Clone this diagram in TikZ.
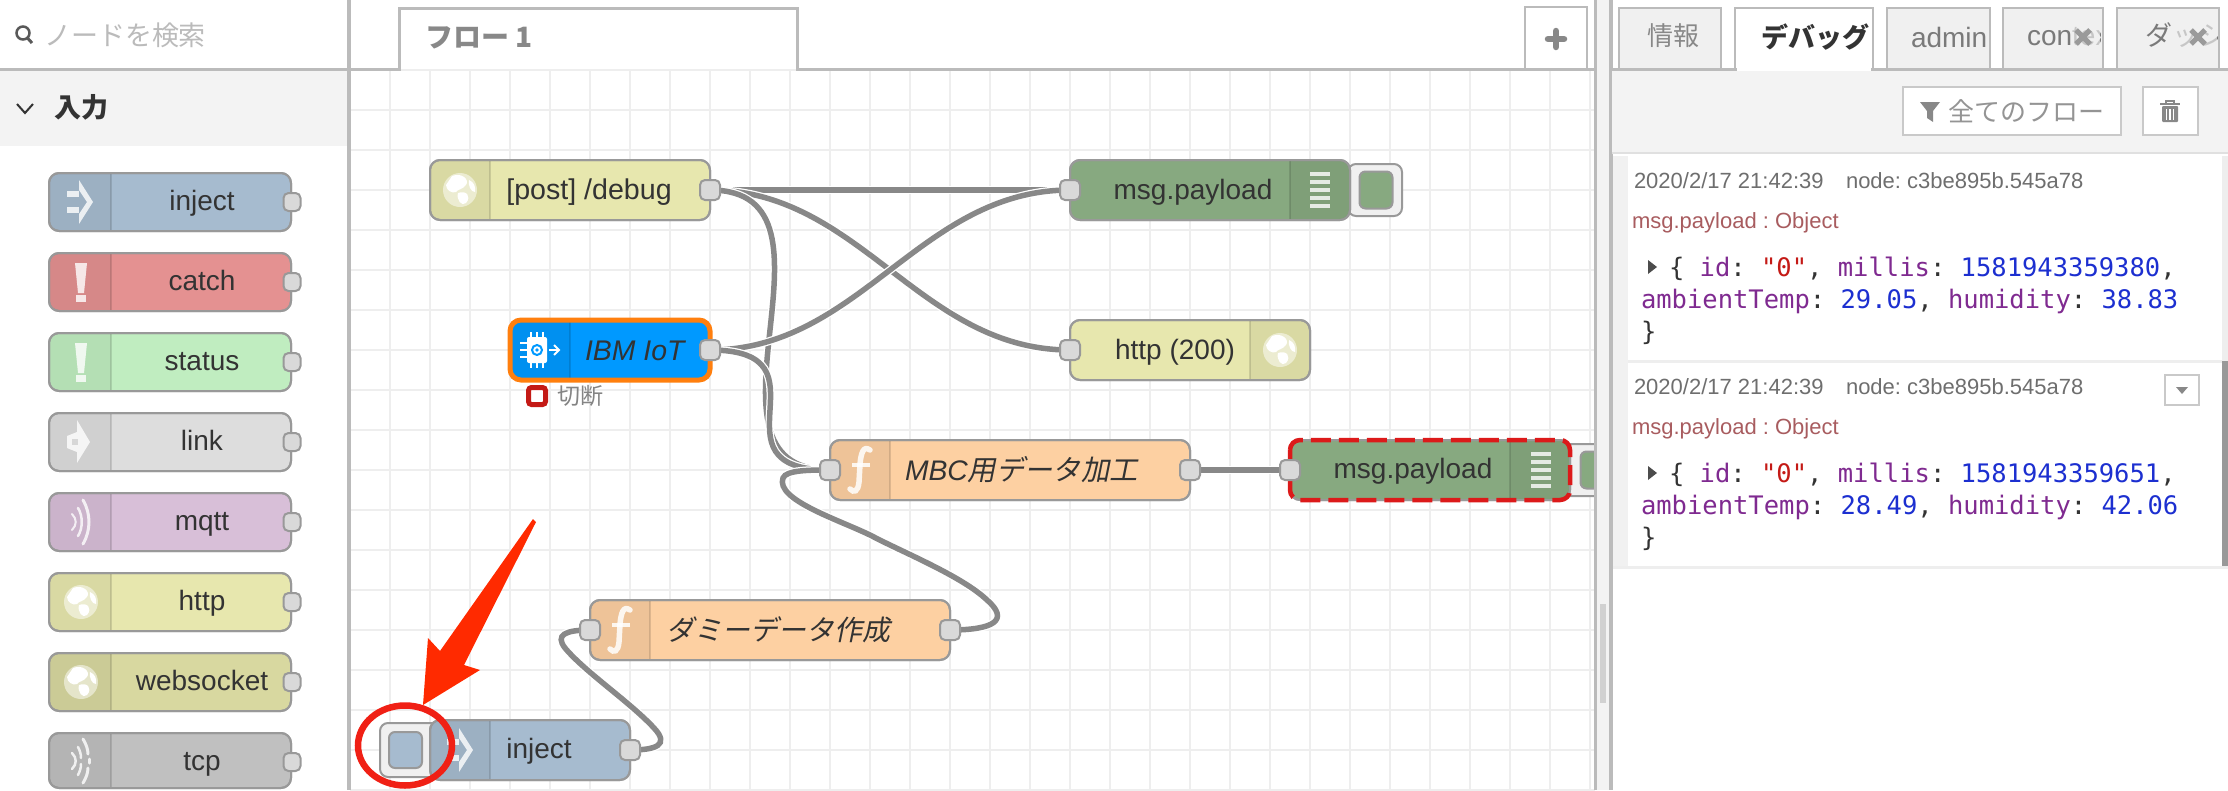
\documentclass[tikz,border=0pt]{standalone}
\usepackage{fontspec}
\setmainfont{Liberation Sans}
\newfontfamily\cjk{Noto Sans CJK JP}
\newfontfamily\cjkit[FakeSlant=0.2]{Noto Sans CJK JP}
\newfontfamily\mono{DejaVu Sans Mono}
\newcommand{\fsz}[1]{\fontsize{#1}{#1}\selectfont}
\definecolor{cinject}{HTML}{A6BBCF}
\definecolor{ccatch}{HTML}{E49191}
\definecolor{cstatus}{HTML}{C0EDC0}
\definecolor{clink}{HTML}{DDDDDD}
\definecolor{cmqtt}{HTML}{D8BFD8}
\definecolor{chttp}{HTML}{E7E7AE}
\definecolor{cws}{HTML}{D8D8A0}
\definecolor{ctcp}{HTML}{C0C0C0}
\definecolor{cfunc}{HTML}{FDD0A2}
\definecolor{cdebug}{HTML}{87A980}
\definecolor{cibm}{HTML}{0099FF}
\definecolor{ctxt}{HTML}{333333}
\definecolor{cgrid}{HTML}{EEEEEE}
\definecolor{cwire}{HTML}{888888}
\definecolor{cborder}{HTML}{999999}
\definecolor{cport}{HTML}{D9D9D9}
\definecolor{cpanel}{HTML}{F3F3F3}
\definecolor{cline}{HTML}{BBBBBB}
\definecolor{ctab}{HTML}{F0F0F0}
\definecolor{cred}{HTML}{FF2A00}
\definecolor{cring}{HTML}{F02015}
\definecolor{ckey}{HTML}{7F2A90}
\definecolor{cstr}{HTML}{C41A16}
\definecolor{cnum}{HTML}{1C2FD0}
\definecolor{cmeta}{HTML}{6E6E6E}
\definecolor{cprop}{HTML}{A85C5F}
\definecolor{cibmring}{HTML}{FF7F0E}
\definecolor{cdash}{HTML}{DC1A1A}
\pgfdeclarelayer{wirelayer}
\pgfsetlayers{wirelayer,main}
\tikzset{
  x=1pt,y=-1pt,
  nodebox/.style={rectangle,rounded corners=10pt,draw=cborder,line width=2pt,inner sep=0pt,outer sep=0pt},
  flatbox/.style={rectangle,inner sep=0pt,outer sep=0pt},
  port/.style={rectangle,rounded corners=5pt,draw=cborder,fill=cport,line width=2pt,minimum width=20pt,minimum height=20pt,inner sep=0pt},
  palport/.style={port,minimum width=17pt,minimum height=18pt},
  lbl/.style={inner sep=0pt,outer sep=0pt,text=ctxt,font=\fsz{28}},
  lblb/.style={lbl,anchor=base},
  wire/.style={draw=cwire,line width=5.5pt,preaction={draw=white,line width=8pt}},
  ico/.style={fill=white,fill opacity=.8,draw=none},
  icol/.style={draw=white,draw opacity=.8,line cap=round},
  pics/injecticon/.style={code={
    \fill[ico] (-13,-11) rectangle (-1,-5); \fill[ico] (-13,5) rectangle (-1,11);
    \fill[ico] (-1,-22) -- (13,0) -- (-1,22) -- (-1,12) -- (7,0) -- (-1,-12) -- cycle;}},
  pics/bangicon/.style={code={
    \fill[ico] (-6,-19) -- (6,-19) -- (3,11) -- (-3,11) -- cycle;
    \fill[ico] (-5,13) rectangle (5,20);}},
  pics/linkicon/.style={code={
    \fill[ico] (-2,-22) -- (11,0) -- (-2,21) -- (-2,10) -- (-12,6) -- (-12,-6) -- (-2,-10) -- cycle;
    \fill[black,opacity=.12] (-7,-3) rectangle (-1,3);}},
  pics/mqtticon/.style={code={
    \draw[icol,line width=2pt] (-8,-8) .. controls (-3,-3) and (-3,3) .. (-8,8);
    \draw[icol,line width=2.5pt] (-2,-14) .. controls (3,-6) and (3,6) .. (-2,14);
    \draw[icol,line width=3pt] (3,-22) .. controls (11,-8) and (11,8) .. (3,22);}},
  pics/tcpicon/.style={code={
    \draw[icol,line width=2.5pt] (-8,-8) .. controls (-3,-3) and (-3,3) .. (-8,8);
    \draw[icol,line width=2.5pt] (-2,-14) .. controls (0,-10) and (1,-7) .. (1,-3);
    \draw[icol,line width=2.5pt] (1,3) .. controls (1,7) and (0,10) .. (-2,14);
    \draw[icol,line width=3pt] (3,-22) .. controls (6,-17) and (8,-12) .. (8,-7);
    \draw[icol,line width=3pt] (9,-2) -- (9,2);
    \draw[icol,line width=3pt] (8,7) .. controls (8,12) and (6,17) .. (3,22);}},
  pics/globeicon/.style={code={
    \fill[white,fill opacity=.5] (0,0) circle (17);
    \fill[white] (-8,-14) .. controls (2,-18) and (10,-10) .. (6,-5) .. controls (2,0) and (-2,-1) .. (-4,2) .. controls (-8,4) and (-14,0) .. (-14,-5) -- cycle;
    \fill[white] (-2,3) .. controls (6,0) and (12,6) .. (6,13) .. controls (2,17) and (-4,10) .. (-2,3) -- cycle;
    \fill[white] (9,-10) .. controls (14,-8) and (16,-3) .. (15,2) .. controls (11,2) and (8,-4) .. (9,-10) -- cycle;}},
  pics/ficon/.style={code={
    \draw[draw=white,draw opacity=.85,line width=5.5pt,line cap=round] (10,-20) .. controls (3,-25) and (1,-16) .. (0,-6) -- (-1,12) .. controls (-2,22) and (-6,23) .. (-10,19);
    \draw[draw=white,draw opacity=.85,line width=4pt] (-8,-5) -- (10,-5);}},
  pics/barsicon/.style={code={
    \foreach \b in {-16,-8,0,8,16}{\fill[ico] (-10,\b-1.8) rectangle (10,\b+1.8);}}},
  pics/chipicon/.style={code={
    \foreach \b in {-6,0,6}{\draw[white,line width=2pt] (\b,-18) -- (\b,18);}
    \foreach \b in {-7,0,7}{\draw[white,line width=2pt] (-17,\b) -- (10,\b);}
    \fill[white,rounded corners=2pt] (-10,-13) rectangle (10,13);
    \draw[cibm,line width=2pt] (0,0) circle (5);
    \fill[cibm] (0,0) circle (1.8);
    \draw[white,line width=2pt] (12,0) -- (22,0);
    \draw[white,line width=2pt] (17,-5) -- (22,0) -- (17,5);}},
}
\newcommand{\nrbox}[9]{%
  \node[nodebox,fill=#6,minimum width={(#4-#2)*1pt},minimum height={(#5-#3)*1pt}] (#1) at ({(#2+#4)/2},{(#3+#5)/2}) {};
  \begin{scope}
    \clip[rounded corners=10pt] (#2,#3) rectangle (#4,#5);
    \fill[black,opacity=.06] (#7,#3) rectangle (#8,#5);
    \draw[black,opacity=.12,line width=2pt] (#9,#3) -- (#9,#5);
  \end{scope}
  \draw[draw=cborder,line width=2pt,rounded corners=10pt] (#2,#3) rectangle (#4,#5);
}
\newcommand{\flatnode}[6]{%
  \node[flatbox,#6,minimum width={(#4-#2)*1pt},minimum height={(#5-#3)*1pt}] (#1) at ({(#2+#4)/2},{(#3+#5)/2}) {};
}
\newcommand{\jk}[1]{\textcolor{ckey}{#1}}
\newcommand{\js}[1]{\textcolor{cstr}{#1}}
\newcommand{\jn}[1]{\textcolor{cnum}{#1}}
\frenchspacing
\begin{document}
\begin{tikzpicture}
\useasboundingbox (0,0) rectangle (2228,790);
% canvas grid
\begin{pgfonlayer}{wirelayer}
  \foreach \gx in {350,390,...,1590}{\draw[cgrid,line width=2pt] (\gx,70) -- (\gx,790);}
  \foreach \gy in {70,110,...,790}{\draw[cgrid,line width=2pt] (350,\gy) -- (1595,\gy);}
\end{pgfonlayer}

% palette
\nrbox{pinject}{49}{173}{291}{231}{cinject}{49}{111}{111}
\nrbox{pcatch}{49}{253}{291}{311}{ccatch}{49}{111}{111}
\nrbox{pstatus}{49}{333}{291}{391}{cstatus}{49}{111}{111}
\nrbox{plink}{49}{413}{291}{471}{clink}{49}{111}{111}
\nrbox{pmqtt}{49}{493}{291}{551}{cmqtt}{49}{111}{111}
\nrbox{phttp}{49}{573}{291}{631}{chttp}{49}{111}{111}
\nrbox{pws}{49}{653}{291}{711}{cws}{49}{111}{111}
\nrbox{ptcp}{49}{733}{291}{788}{ctcp}{49}{111}{111}
\pic at (80,202) {injecticon};
\pic at (81,282) {bangicon};
\pic at (81,362) {bangicon};
\pic at (79,442) {linkicon};
\pic at (80,522) {mqtticon};
\pic at (81,602) {globeicon};
\pic at (81,682) {globeicon};
\pic at (80,761) {tcpicon};
\node[lblb] (tinject) at (202,210) {inject};
\node[lblb] (tcatch) at (202,290) {catch};
\node[lblb] (tstatus) at (202,370) {status};
\node[lblb] (tlink) at (202,450) {link};
\node[lblb] (tmqtt) at (202,530) {mqtt};
\node[lblb] (thttp) at (202,610) {http};
\node[lblb] (tws) at (202,690) {websocket};
\node[lblb] (ttcp) at (202,770) {tcp};
\foreach \py/\pn in {202/a,282/b,362/c,442/d,522/e,602/f,682/g,762/h}{\node[palport] (pp\pn) at (292,\py) {};}

% workspace nodes
\nrbox{ndebugin}{430}{160}{710}{220}{chttp}{430}{490}{490}
\pic at (460,190) {globeicon};
\node[lblb,font=\fsz{28.6}] (tpost) at (589,199) {[post] /debug};

\nrbox{nibm}{510}{320}{710}{380}{cibm}{510}{570}{570}
\draw[draw=cibmring,line width=5pt,rounded corners=11pt] (510,320) rectangle (710,380);
\pic at (537,350) {chipicon};
\node[lblb,anchor=base west,font=\fsz{28.4}\itshape] (tibm) at (585,360) {IBM IoT};
\node[flatbox,draw=cstr,fill=white,line width=5pt,rounded corners=3pt,minimum width=17pt,minimum height=17pt] (sq) at (537,396) {};
\node[lbl,anchor=west,text=cmeta!85,font=\fsz{23}\cjk] (tcut) at (557,396) {切断};

\node[flatbox,draw=cborder,fill=ctab,line width=2pt,rounded corners=8pt,minimum width=54pt,minimum height=52pt] (btn1) at (1375,190) {};
\node[flatbox,draw=cborder,fill=cdebug,line width=2pt,rounded corners=6pt,minimum width=33pt,minimum height=37pt] (btn1i) at (1376,190) {};
\nrbox{ndeb1}{1070}{160}{1350}{220}{cdebug}{1290}{1350}{1290}
\pic at (1320,190) {barsicon};
\node[lblb] (tdeb1) at (1193,199) {msg.payload};

\nrbox{nhttp}{1070}{320}{1310}{380}{chttp}{1250}{1310}{1250}
\pic at (1280,350) {globeicon};
\node[lblb] (thttp2) at (1175,359) {http (200)};

\nrbox{nmbc}{830}{440}{1190}{500}{cfunc}{830}{890}{890}
\pic at (860,470) {ficon};
\node[lbl,anchor=west,font=\fsz{28.3}] (tmbc) at (905,470) {\itshape MBC\cjkit 用データ加工};

\begin{scope}
  \clip (1500,430) rectangle (1595,510);
  \node[flatbox,draw=cborder,fill=ctab,line width=2pt,rounded corners=8pt,minimum width=60pt,minimum height=52pt] (btn2) at (1590,470) {};
  \node[flatbox,draw=cborder,fill=cdebug,line width=2pt,rounded corners=6pt,minimum width=33pt,minimum height=37pt] (btn2i) at (1597,470) {};
\end{scope}
\nrbox{ndeb2}{1290}{440}{1570}{500}{cdebug}{1510}{1570}{1510}
\draw[draw=cdash,line width=4.5pt,dash pattern=on 20pt off 8pt,rounded corners=10pt] (1290,440) rectangle (1570,500);
\pic at (1541,470) {barsicon};
\node[lblb] (tdeb2) at (1413,478) {msg.payload};

\nrbox{ndummy}{590}{600}{950}{660}{cfunc}{590}{650}{650}
\pic at (620,630) {ficon};
\node[lbl,anchor=center] (tdummy) at (778,630) {\cjkit ダミーデータ作成};

\node[flatbox,draw=cborder,fill=ctab,line width=2pt,rounded corners=8pt,minimum width=60pt,minimum height=54pt] (btn3) at (410,750) {};
\node[flatbox,draw=cborder,fill=cinject,line width=2pt,rounded corners=6pt,minimum width=33pt,minimum height=36pt] (btn3i) at (405.5,750) {};
\nrbox{ninject}{430}{720}{630}{780}{cinject}{430}{490}{490}
\pic at (460,750) {injecticon};
\node[lblb] (tinject2) at (539,758) {inject};

% ports
\node[port] (odebug) at (710,190) {};
\node[port] (oibm) at (710,350) {};
\node[port] (ideb1) at (1070,190) {};
\node[port] (ihttp) at (1070,350) {};
\node[port] (imbc) at (830,470) {};
\node[port] (ombc) at (1190,470) {};
\node[port] (ideb2) at (1290,470) {};
\node[port] (idummy) at (590,630) {};
\node[port] (odummy) at (950,630) {};
\node[port] (oinject) at (630,750) {};

% wires
\begin{pgfonlayer}{wirelayer}
  \draw[wire] (odebug.center) -- (ideb1.center);
  \draw[wire] (odebug.center) .. controls +(150,0) and +(-150,0) .. (ihttp.center);
  \draw[wire] (odebug.center) .. controls +(150,0) and +(-150,0) .. (imbc.center);
  \draw[wire] (oibm.center) .. controls +(150,0) and +(-150,0) .. (ideb1.center);
  \draw[wire] (oibm.center) .. controls +(127,0) and +(-127,0) .. (imbc.center);
  \draw[wire] (ombc.center) -- (ideb2.center);
  \draw[wire] (odummy.center) .. controls +(44,0) and (1010,620) .. (987,600)
     .. controls (962,576) and (900,551) .. (872,536)
     .. controls (840,520) and (775,500) .. (783,478)
     .. controls (786,470) and (810,470) .. (imbc.center);
  \draw[wire] (oinject.center) .. controls +(26,0) and (670,745) .. (654,728)
     .. controls (630,702) and (585,672) .. (565,648)
     .. controls (555,635) and (565,630) .. (idummy.center);
\end{pgfonlayer}

% arrow and ring
\fill[cred,line join=round] (533,519) -- (536,522) -- (464,665) -- (480,670) -- (423,705) -- (428,638) -- (440,651) -- cycle;
\draw[cring,line width=6.5pt] (405,745.5) ellipse [x radius=47,y radius=40];

% left sidebar
\flatnode{searchbar}{0}{0}{349}{68}{fill=white}
\flatnode{cathead}{0}{70}{349}{146}{fill=cpanel}
\draw[line width=2.5pt,draw=black!65] (23,33) circle (6.5);
\draw[line width=3pt,draw=black!65] (27.5,38) -- (32,43);
\node[lbl,anchor=west,text=cline,font=\fsz{27}\cjk] (tsearch) at (44,35) {ノードを検索};
\draw[line width=2pt,draw=ctxt] (17,104) -- (25,113) -- (33,104);
\node[lbl,anchor=west,font=\fsz{27}\cjk\bfseries] (tin) at (54,107) {入力};

% flow tab bar
\fill[white] (349,0) rectangle (1595,69);
\draw[cline,line width=3pt] (0,69) -- (399,69) -- (399,8) -- (797,8) -- (797,69) -- (1595,69);
\node[lbl,anchor=west,text=cwire,font=\fsz{28}\cjk\bfseries] (tflow) at (425,38) {フロー 1};
\node[flatbox,draw=cline,fill=white,line width=2.5pt,minimum width=62pt,minimum height=62pt] (plus) at (1556,38) {};
\draw[cwire,line width=6.5pt,line cap=round] (1548,39) -- (1564,39) (1556,31) -- (1556,47);
\draw[cline,line width=3.5pt] (349,0) -- (349,790);

% separator
\fill[cpanel] (1595,0) rectangle (1611,790);
\draw[cline,line width=3pt] (1595,0) -- (1595,790);
\draw[cline,line width=3.5pt] (1611,0) -- (1611,790);
\fill[black!18] (1600,604) rectangle (1606,703);

% right sidebar
\flatnode{sidehead}{1612}{70}{2228}{152}{fill=cpanel}
\draw[black!12,line width=2.5pt] (1612,153) -- (2228,153);
\foreach \tn/\ta/\tb in {t1/1619/1721,t3/1887/1990,t4/2003/2103,t5/2117/2219}{
  \flatnode{\tn}{\ta}{8}{\tb}{69}{draw=cline,fill=ctab,line width=2.5pt}
}
\flatnode{t2}{1735}{8}{1873}{69}{draw=cline,fill=white,line width=2.5pt}
\draw[cline,line width=3pt] (1612,69) -- (2228,69);
\fill[white] (1737,67) rectangle (1871,70.5);
\node[lbl,text=cwire,font=\fsz{26}\cjk] (l1) at (1673,36) {情報};
\node[lbl,text=ctxt,font=\fsz{27}\cjk\bfseries] (l2) at (1815,37) {デバッグ};
\node[lbl,text=cwire!90!black,anchor=west] (l3) at (1911,37) {admin};
\begin{scope}
  \clip (2005,10) rectangle (2100,66);
  \node[lbl,text=cwire!90!black,anchor=west] (l4) at (2027,37) {context};
  \fill[ctab,opacity=.65] (2072,10) rectangle (2100,66);
\end{scope}
\begin{scope}
  \clip (2119,10) rectangle (2217,66);
  \node[lbl,text=cwire!90!black,anchor=west,font=\fsz{27}\cjk] (l5) at (2145,35) {ダッシ};
  \fill[ctab,opacity=.65] (2172,10) rectangle (2217,66);
\end{scope}
\draw[cwire!85,line width=5pt] (2076,30) -- (2090,44) (2090,30) -- (2076,44);
\draw[cwire!85,line width=5pt] (2191,30) -- (2205,44) (2205,30) -- (2191,44);

% toolbar
\flatnode{filt}{1903}{87}{2121}{135}{draw=cline!80,fill=white,line width=2.5pt}
\fill[cwire] (1920,102) -- (1940,102) -- (1933,111) -- (1933,122) -- (1927,118) -- (1927,111) -- cycle;
\node[lbl,text=cwire!90,anchor=west,font=\fsz{26}\cjk] (tfilt) at (1948,111) {全てのフロー};
\flatnode{trash}{2143}{87}{2198}{135}{draw=cline!80,fill=white,line width=2.5pt}
\fill[cwire,rounded corners=1pt] (2162,106) rectangle (2178,122);
\draw[cwire,line width=2.5pt] (2160,104) -- (2180,104);
\draw[cwire,line width=2pt] (2166,103) -- (2166,101) -- (2174,101) -- (2174,103);
\foreach \tx in {2166.5,2170,2173.5}{\draw[white,line width=1.2pt] (\tx,109) -- (\tx,120);}

% debug entries
\fill[ctab!90!white] (1613,156) rectangle (1628,566);
\fill[cgrid] (2222,156) rectangle (2228,361);
\fill[cborder] (2222,361) rectangle (2228,566);
\draw[cgrid,line width=3pt] (1628,361) -- (2222,361);
\draw[cgrid,line width=3pt] (1613,567) -- (2228,567);

\node[lbl,anchor=base west,text=cmeta,font=\fsz{22}] (d1a) at (1634,188) {2020/2/17 21:42:39};
\node[lbl,anchor=base west,text=cmeta,font=\fsz{22}] (d1b) at (1846,188) {node: c3be895b.545a78};
\node[lbl,anchor=base west,text=cprop,font=\fsz{22}] (d1c) at (1632,228) {msg.payload : Object};
\fill[black!70] (1648,260) -- (1657,267) -- (1648,274) -- cycle;
\node[lbl,anchor=base west,font=\fsz{25.5}\mono] (d1d) at (1669,276) {\{ \jk{id}: \js{"0"}, \jk{millis}: \jn{1581943359380},};
\node[lbl,anchor=base west,font=\fsz{25.5}\mono] (d1e) at (1641,308) {\jk{ambientTemp}: \jn{29.05}, \jk{humidity}: \jn{38.83}};
\node[lbl,anchor=base west,font=\fsz{25.5}\mono] (d1f) at (1641,340) {\}};

\node[lbl,anchor=base west,text=cmeta,font=\fsz{22}] (d2a) at (1634,394) {2020/2/17 21:42:39};
\node[lbl,anchor=base west,text=cmeta,font=\fsz{22}] (d2b) at (1846,394) {node: c3be895b.545a78};
\node[lbl,anchor=base west,text=cprop,font=\fsz{22}] (d2c) at (1632,434) {msg.payload : Object};
\flatnode{caret}{2165}{375}{2199}{405}{draw=cline!80,fill=white,line width=2pt}
\fill[cwire] (2176,387) -- (2188,387) -- (2182,394) -- cycle;
\fill[black!70] (1648,466) -- (1657,473) -- (1648,480) -- cycle;
\node[lbl,anchor=base west,font=\fsz{25.5}\mono] (d2d) at (1669,482) {\{ \jk{id}: \js{"0"}, \jk{millis}: \jn{1581943359651},};
\node[lbl,anchor=base west,font=\fsz{25.5}\mono] (d2e) at (1641,514) {\jk{ambientTemp}: \jn{28.49}, \jk{humidity}: \jn{42.06}};
\node[lbl,anchor=base west,font=\fsz{25.5}\mono] (d2f) at (1641,546) {\}};
\end{tikzpicture}
\end{document}
